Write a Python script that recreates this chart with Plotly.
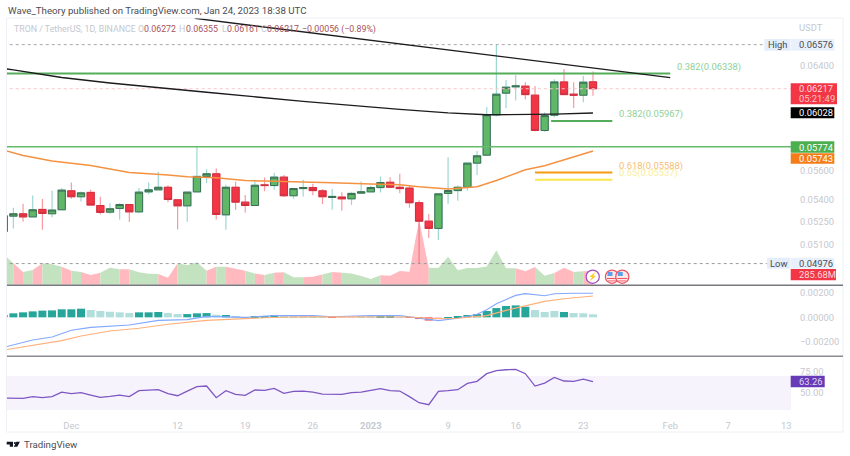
import numpy as np
import pandas as pd
import plotly.graph_objects as go

FONT = "Roboto, Liberation Sans, sans-serif"
# ---------- data ----------
first_day = "2022-11-24"
opens = [5184,5286,5302,5281,5331,5302,5329,5459,5418,5448,5358,5313,5338,5365,5315,5452,5466,5484,5397,5356,
         5452,5560,5579,5295,5484,5381,5358,5501,5496,5555,5425,5475,5482,5459,5413,5416,5404,5443,5452,5482,
         5519,5484,5478,5377,5252,5204,5441,5461,5484,5655,5713,6014,6182,6232,6237,6166,5895,6011,6271,6174,6166,6272]
highs = [5288,5343,5370,5427,5402,5459,5478,5517,5454,5466,5418,5374,5374,5368,5478,5517,5593,5498,5402,5454,
         5781,5612,5619,5501,5522,5431,5527,5553,5586,5571,5478,5536,5508,5471,5471,5450,5452,5524,5496,5560,
         5555,5579,5494,5392,5300,5443,5698,5496,5657,5744,6075,6576,6287,6327,6269,6239,6031,6293,6376,6269,6319,6355]
lows = [5184,5204,5248,5279,5195,5279,5327,5404,5386,5360,5297,5302,5261,5246,5306,5436,5465,5381,5197,5248,
        5450,5512,5263,5195,5327,5309,5356,5456,5466,5416,5404,5420,5429,5368,5329,5324,5361,5442,5450,5448,
        5480,5443,5343,4976,5140,5127,5370,5390,5461,5571,5710,6001,6065,6124,6135,5889,5885,5996,6168,6067,6111,6161]
closes = [5288,5302,5281,5329,5304,5327,5464,5418,5445,5361,5311,5336,5365,5315,5450,5466,5484,5399,5356,5450,
          5560,5579,5297,5484,5381,5358,5498,5496,5555,5425,5475,5482,5461,5418,5420,5404,5441,5452,5482,5517,
          5484,5475,5377,5252,5204,5438,5461,5484,5655,5708,6014,6174,6229,6239,6171,5895,6008,6271,6171,6166,6269,6217]
volume_m = [632,445,264,306,445,424,375,292,264,202,250,354,320,320,257,229,222,146,445,403,
            466,292,375,375,341,292,236,202,250,257,153,153,167,215,264,250,236,181,118,195,
            188,285,271,1348,354,348,584,299,348,348,382,716,341,341,278,368,188,243,354,264,278,285.68]
macd_hist = [19,33,41,49,55,57,66,66,71,60,52,46,41,35,41,41,44,35,27,27,33,35,22,19,5,1,11,11,19,14,11,8,5,3,
             -5,-5,-3,3,5,8,8,-1,-5,-14,-27,-8,1,5,19,27,52,76,93,98,87,60,44,52,44,35,33,25]
macd_shade = "DDDDDDDDDLLLLLDDDLLDDDLDLLDDDLLLLLRrrLLDDLRRRrDDDDDDDDDLLLDLLLL"
rsi_values = [44.1,44.1,43.7,45.7,44.5,45.7,51.1,49.2,50.4,47.6,44.9,46.1,47.6,45.7,52.7,53.5,53.9,49.2,46.8,52.3,57.4,
              58.2,44.5,52.7,48.4,47.2,53.5,53.1,55.5,49.6,51.9,52.3,51.1,48.8,48.8,48.4,50.4,51.1,53.1,55.1,52.7,
              52.3,45.7,38.6,36.3,51.9,52.7,53.9,61.3,63.7,72.7,76.2,77.3,77.7,72.7,58.2,61.7,68.4,64.1,63.7,66.4,63.26]

ma200_days = ["2022-11-24","2022-11-25","2022-11-30","2022-12-05","2022-12-15","2022-12-25","2023-01-04","2023-01-09","2023-01-13","2023-01-16","2023-01-20","2023-01-24"]
ma200_vals = [6379,6368,6307,6263,6189,6118,6056,6029,6014,6016,6019,6028]
ema_days = ["2022-11-24","2022-11-26","2022-11-29","2022-12-03","2022-12-07","2022-12-11","2022-12-13","2022-12-16","2022-12-19","2022-12-24","2022-12-28","2023-01-01","2023-01-04","2023-01-06","2023-01-08","2023-01-09","2023-01-11","2023-01-12","2023-01-14","2023-01-16","2023-01-17","2023-01-19","2023-01-24"]
ema_vals = [5749,5710,5670,5638,5588,5571,5557,5550,5531,5524,5515,5506,5501,5487,5473,5471,5482,5487,5531,5584,5607,5636,5743]
macd_days = ["2022-11-24","2022-11-27","2022-11-29","2022-12-01","2022-12-03","2022-12-05","2022-12-07","2022-12-10","2022-12-13","2022-12-15","2022-12-19","2022-12-22","2022-12-26","2022-12-28","2023-01-01","2023-01-04","2023-01-06","2023-01-08","2023-01-10","2023-01-12","2023-01-13","2023-01-14","2023-01-16","2023-01-17","2023-01-19","2023-01-20","2023-01-22","2023-01-24"]
macd_line = [-246,-186,-161,-106,-82,-74,-63,-25,-19,8,0,14,14,5,14,14,-8,-27,-8,25,63,112,180,194,177,194,197,197]
signal_days = ["2022-11-24","2022-11-27","2022-11-30","2022-12-02","2022-12-05","2022-12-08","2022-12-11","2022-12-15","2022-12-18","2022-12-21","2022-12-25","2022-12-29","2023-01-02","2023-01-05","2023-01-07","2023-01-08","2023-01-10","2023-01-13","2023-01-15","2023-01-17","2023-01-19","2023-01-21","2023-01-24"]
signal_line = [-268,-232,-191,-153,-112,-90,-57,-25,-11,-3,5,5,5,3,-8,-11,-8,14,57,96,131,153,175]

x_tick_days = ["2022-12-01","2022-12-12","2022-12-19","2022-12-26","2023-01-01","2023-01-09","2023-01-16","2023-01-23","2023-02-01","2023-02-07","2023-02-13"]
x_tick_text = ["Dec","12","19","26","<b>2023</b>","9","16","23","Feb","7","13"]
price_ticks = [0.064,0.056,0.054,0.0525,0.051]
price_tick_text = ["0.06400","0.05600","0.05400","0.05250","0.05100"]
macd_ticks = [0.002,0,-0.002]
macd_tick_text = ["0.00200","0.00000","−0.00200"]
rsi_ticks = [75,50]
rsi_tick_text = ["75.00","50.00"]

# ---------- px helpers for the page furniture ----------
W, H = 850, 456
def X(px): return px / W
def Y(py): return 1 - py / H
PL, PR = 7, 791
XRANGE = ["2022-11-24 08:06", "2023-02-13 12:00"]

days = pd.date_range(first_day, periods=len(opens), freq="D")
o = np.array(opens) / 1e5; h = np.array(highs) / 1e5; l = np.array(lows) / 1e5; c = np.array(closes) / 1e5

fig = go.Figure()

# volume as stepped-colour area
PINK, MINT = "#ffb9bf", "#c3e2bf"
is_up = c >= o
i = 1
while i < len(days):
    j = i
    while j + 1 < len(days) and is_up[j + 1] == is_up[i]:
        j += 1
    fig.add_trace(go.Scatter(x=days[i - 1:j + 1], y=volume_m[i - 1:j + 1], mode="lines", fill="tozeroy",
                             line=dict(width=0, color=MINT if is_up[i] else PINK),
                             fillcolor=MINT if is_up[i] else PINK, xaxis="x", yaxis="y", showlegend=False))
    i = j + 1

def pline(xs, ys, color, width=1.5, dash=None, xa="x", ya="y2"):
    fig.add_trace(go.Scatter(x=xs, y=ys, mode="lines", line=dict(color=color, width=width, dash=dash),
                             xaxis=xa, yaxis=ya, showlegend=False, hoverinfo="skip"))

# horizontal levels and lines
pline(["2022-11-24", "2023-02-10 16:00"], [0.06576, 0.06576], "#a8a8ac", 1, "dot")
pline(["2022-11-24", "2023-02-11 00:00"], [0.04976, 0.04976], "#9a9a9e", 1, "dot")
pline(["2022-11-24", "2023-02-14"], [0.06217, 0.06217], "#f8c6cb", 1, "dot")
pline(["2022-11-24", "2023-02-01"], [0.06338, 0.06338], "#55ad5c", 2)
pline(["2022-11-24", "2023-02-14"], [0.05774, 0.05774], "#66bb6a", 1.5)
pline(["2023-01-19 16:00", "2023-01-26"], [0.05967, 0.05967], "#55ad5c", 2)
pline(["2023-01-18", "2023-01-26"], [0.05588, 0.05588], "#f59a12", 2)
pline(["2023-01-18", "2023-01-26"], [0.05537, 0.05537], "#fbe64e", 2)
pline(["2022-12-13 19:00", "2023-02-01"], [0.06800, 0.06306], "#1c1c1e", 1.4)
pline(ma200_days, np.array(ma200_vals) / 1e5, "#1c1c1e", 1.4)
pline(ema_days, np.array(ema_vals) / 1e5, "#f59241", 1.5)

# candles: wicks first, then bodies over them
fig.add_trace(go.Candlestick(x=days, open=o, high=h, low=l, close=c, xaxis="x", yaxis="y2", showlegend=False,
                             increasing=dict(line=dict(color="rgba(38,166,154,0.45)", width=1.2), fillcolor="rgba(0,0,0,0)"),
                             decreasing=dict(line=dict(color="rgba(242,54,69,0.5)", width=1.2), fillcolor="rgba(0,0,0,0)")))
fig.add_trace(go.Candlestick(x=days, open=o, high=np.maximum(o, c), low=np.minimum(o, c), close=c, xaxis="x", yaxis="y2", showlegend=False,
                             increasing=dict(line=dict(color="#3c6f54", width=1), fillcolor="#5fb767"),
                             decreasing=dict(line=dict(color="#cf3040", width=1), fillcolor="#f23645")))

# MACD pane
shade_colors = {"D": "#26a69a", "L": "#b2dfdb", "R": "#ff5252", "r": "#ffcdd2"}
fig.add_trace(go.Bar(x=days, y=np.array(macd_hist) / 1e5, marker=dict(color=[shade_colors[s] for s in macd_shade], line=dict(width=0)),
                     width=8.0 / 9.66 * 86400000, xaxis="x2", yaxis="y3", showlegend=False))
pline(macd_days, np.array(macd_line) / 1e5, "#82a8ff", 1.1, xa="x2", ya="y3")
pline(signal_days, np.array(signal_line) / 1e5, "#ffb07a", 1.1, xa="x2", ya="y3")

# RSI pane
pline(days, rsi_values, "#7e57c2", 1.3, xa="x3", ya="y4")

def pane_axis(**kw):
    base = dict(showgrid=False, zeroline=False, showline=False, fixedrange=True)
    base.update(kw)
    return base

TICKFONT = dict(family=FONT, size=9.4, color="#c6c8cf")
yticks = dict(ticks="outside", ticklen=6, tickcolor="rgba(0,0,0,0)", tickfont=TICKFONT, tickmode="array", side="right")
dom_x = [X(PL), X(PR)]
fig.update_layout(
    width=W, height=H, margin=dict(l=0, r=0, t=0, b=0, pad=0, autoexpand=False),
    paper_bgcolor="white", plot_bgcolor="white", showlegend=False, barmode="overlay",
    hovermode=False, dragmode=False, boxgap=0.25, boxgroupgap=0.0,
    xaxis=pane_axis(domain=dom_x, range=XRANGE, type="date", showticklabels=False, anchor="y", rangeslider=dict(visible=False)),
    xaxis2=pane_axis(domain=dom_x, range=XRANGE, type="date", showticklabels=False, anchor="y3"),
    xaxis3=pane_axis(domain=dom_x, range=XRANGE, type="date", anchor="y4", tickmode="array",
                     tickvals=x_tick_days, ticktext=x_tick_text, tickfont=TICKFONT, ticks="outside", ticklen=1,
                     tickcolor="rgba(0,0,0,0)"),
    yaxis=pane_axis(domain=[Y(284.7), Y(18)], range=[0, 5560], showticklabels=False, anchor="x"),
    yaxis2=pane_axis(domain=[Y(285), Y(18)], type="log", range=[np.log10(0.04844), np.log10(0.06803)], overlaying="y",
                     anchor="x", tickvals=price_ticks, ticktext=price_tick_text, **yticks),
    yaxis3=pane_axis(domain=[Y(356), Y(286)], range=[-0.00317, 0.00257], anchor="x2",
                     tickvals=macd_ticks, ticktext=macd_tick_text, **yticks),
    yaxis4=pane_axis(domain=[Y(416), Y(357)], range=[23, 92.3], anchor="x3",
                     tickvals=rsi_ticks, ticktext=rsi_tick_text, **yticks),
)

shapes = []
def rect(x0, y0, x1, y1, fill, line=None, layer="above", radius=False):
    shapes.append(dict(type="rect", xref="paper", yref="paper", x0=X(x0), x1=X(x1), y0=Y(y1), y1=Y(y0), fillcolor=fill,
                       line=dict(width=0 if line is None else 1, color=line or fill), layer=layer))
def hline(x0, x1, y, color, width):
    shapes.append(dict(type="line", xref="paper", yref="paper", x0=X(x0), x1=X(x1), y0=Y(y), y1=Y(y), line=dict(color=color, width=width)))
def circle(cx, cy, r, fill, line, width=1.2):
    shapes.append(dict(type="circle", xref="paper", yref="paper", x0=X(cx - r), x1=X(cx + r), y0=Y(cy + r), y1=Y(cy - r), fillcolor=fill, line=dict(color=line, width=width)))

# frame and pane dividers
rect(6.5, 18, 843, 432, "rgba(0,0,0,0)", "#eef0f5")
hline(7, 843, 285.3, "#77787e", 1.4)
hline(7, 843, 356.3, "#8b8c92", 1.4)
# RSI band
shapes.append(dict(type="rect", xref="x3", yref="y4", x0=XRANGE[0], x1=XRANGE[1], y0=30, y1=70, fillcolor="#f6f3fd", line=dict(width=0), layer="below"))
# axis tags
rect(764.3, 39, 790, 50.7, "#e4edfa")
rect(790.5, 39, 834.3, 50.7, "#e8f0fb")
rect(767, 257.7, 790, 268.7, "#e4edfa")
rect(790.5, 257.7, 834.3, 268.7, "#e8f0fb")
rect(790.7, 83.3, 837, 104.3, "#f23645")
rect(790.7, 107.3, 834.3, 118.3, "#000000")
rect(790.7, 141.3, 834.3, 152.7, "#4caf50")
rect(790.7, 153.3, 834.3, 163.7, "#f57c17")
rect(790.7, 269, 836, 280.3, "#f23645")
rect(790.7, 375.7, 824.7, 387.3, "#673ab7")
# event icons
circle(592.7, 276.7, 6.6, "#ffffff", "#a24bc4")
for cx in (612, 622.3):
    circle(cx, 276.7, 6.6, "#fde7e9", "#ef5360")
    rect(cx - 4.5, 272, cx + 0.5, 276, "#5ba0e8")
    rect(cx - 5, 278, cx + 5, 279, "#ef5360")
    rect(cx - 4, 280.5, cx + 4, 281.3, "#ef5360")
# logo
LOGO = "M 6.7 441.7 L 13 441.7 L 13 446.8 L 9.8 446.8 L 9.8 444.4 L 6.7 444.4 Z M 16.4 441.7 L 19.9 441.7 L 17.3 446.8 L 13.8 446.8 Z"
def path_to_paper(pth):
    out, toks, k = [], pth.split(), 0
    while k < len(toks):
        if toks[k] in ("M", "L"):
            out.append(f"{toks[k]} {X(float(toks[k + 1])):.5f} {Y(float(toks[k + 2])):.5f}")
            k += 3
        else:
            out.append(toks[k]); k += 1
    return " ".join(out)
shapes.append(dict(type="path", xref="paper", yref="paper", path=path_to_paper(LOGO), fillcolor="#131722", line=dict(width=0)))
circle(14.9, 443, 1.1, "#131722", "#131722", 0)
fig.update_layout(shapes=shapes)

anns = []
def text(px, py, s, color, size=9.4, anchor="left"):
    anns.append(dict(xref="paper", yref="paper", x=X(px), y=Y(py), xanchor=anchor, yanchor="middle", text=s, showarrow=False,
                     borderpad=0, font=dict(family=FONT, size=size, color=color)))

text(7, 10.5, "Wave_Theory published on TradingView.com, Jan 24, 2023 18:38 UTC", "#4a4c52", 9.7)
LEG = 8.8
text(12.7, 29, "TRON / TetherUS, 1D, BINANCE", "#c6c8cf", LEG)
RD = "#a8525c"
for px, s, col in [(136.7, "O", "#c6c8cf"), (142.7, "0.06272", RD), (178.3, "H", "#c6c8cf"), (185, "0.06355", RD),
                   (220.7, "L", "#c6c8cf"), (226, "0.06161", RD), (260, "C", "#c6c8cf"), (266, "0.06217", RD),
                   (301, "−0.00056 (−0.89%)", RD)]:
    text(px, 29, s, col, LEG)
text(797.7, 27, "USDT", "#c6c8cf", 9.4)
text(675.7, 67, "0.382(0.06338)", "#8fd096", 9.4)
text(617.7, 114.3, "0.382(0.05967)", "#8fd096", 9.4)
text(617.7, 166, "0.618(0.05588)", "#f7c078", 9.4)
text(617.7, 173.5, "0.65(0.05537)", "#f7ee9a", 9.4)
text(777, 44.6, "High", "#4a4c52", 9.4, "center")
text(797.7, 44.6, "0.06576", "#4a4c52", 9.4)
text(778.5, 263.3, "Low", "#4a4c52", 9.4, "center")
text(797.7, 263.3, "0.04976", "#4a4c52", 9.4)
text(797.7, 88.8, "0.06217", "#ffd9dc", 9.4)
text(797.7, 98.5, "05:21:49", "#ffc4c9", 9.4)
text(797.7, 112.7, "0.06028", "#ffffff", 9.4)
text(797.7, 147, "0.05774", "#ffffff", 9.4)
text(797.7, 158.5, "0.05743", "#ffffff", 9.4)
text(797.7, 274.7, "285.68M", "#ffd9dc", 9.4)
text(797.7, 381.5, "63.26", "#e3d9f5", 9.4)
text(592.7, 276.7, "⚡", "#a24bc4", 7.5, "center")
text(23, 444.5, "TradingView", "#4a4c52", 9.7)
fig.update_layout(annotations=anns)

fig.write_html("out.html", config=dict(displayModeBar=False),
               post_script="document.body.style.margin='0';document.body.style.overflow='hidden';")
